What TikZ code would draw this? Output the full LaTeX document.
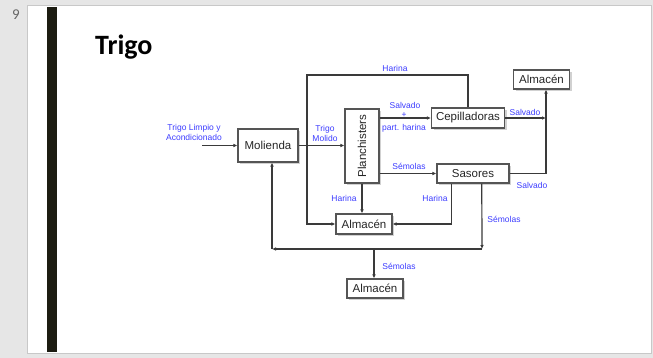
\documentclass[tikz,border=0pt]{standalone}
\usepackage{fontspec}
\setmainfont{Liberation Sans}
\newfontfamily\slidefont{Carlito}
\usetikzlibrary{arrows.meta,calc}
\definecolor{slidegray}{HTML}{E6E6E6}
\definecolor{slideedge}{HTML}{C8C8C8}
\definecolor{barcolor}{HTML}{1C1C12}
\definecolor{flowline}{HTML}{3A3A3A}
\definecolor{boxedge}{HTML}{555555}
\definecolor{labelblue}{HTML}{3C3CFF}
\tikzset{
  unitbox/.style={draw=boxedge, line width=1.1pt, fill=white, inner sep=0pt,
    font=\fontsize{11.5}{12}\selectfont, text=black!85},
  flow/.style={draw=flowline, line width=1.2pt,
    -{Latex[length=4pt,width=3.6pt]}},
  lbl/.style={text=labelblue, font=\fontsize{8.5}{9.5}\selectfont, inner sep=0pt, align=center},
}
\begin{document}
\begin{tikzpicture}[x=1pt,y=-1pt]
  % slide frame
  \fill[slidegray] (0,0) rectangle (653,358);
  \useasboundingbox (0,0) rectangle (653,358);
  \draw[slideedge, fill=white, line width=0.8pt] (27,5) rectangle (651,353);
  \node[font=\slidefont\fontsize{15}{16}\selectfont, text=black!60] (num) at (16,15) {9};
  \fill[barcolor] (47,7) rectangle (57,352);
  \node[font=\slidefont\bfseries\fontsize{28}{30}\selectfont, anchor=west, inner sep=0pt]
    (title) at (95,47) {Trigo};

  % shadows under the boxes
  \foreach \cx/\cy/\w/\h in {268/145.5/60/33, 362/146/34/74, 468/118/73/20,
      541.5/79.5/56/19, 473/173.5/72/19, 364/224/56/20, 375/288.5/56/19}
    \fill[black!18] (\cx-\w/2+2,\cy-\h/2+2) rectangle (\cx+\w/2+2,\cy+\h/2+2);

  % process units
  \node[unitbox, minimum width=60pt, minimum height=33pt] (mol) at (268,145.5) {Molienda};
  \node[unitbox, minimum width=34pt, minimum height=74pt] (plan) at (362,146)
    {\rotatebox{90}{Planchisters}};
  \node[unitbox, minimum width=73pt, minimum height=20pt] (cep) at (468,118) {Cepilladoras};
  \node[unitbox, minimum width=56pt, minimum height=19pt] (almA) at (541.5,79.5) {Almacén};
  \node[unitbox, minimum width=72pt, minimum height=19pt] (sas) at (473,173.5) {Sasores};
  \node[unitbox, minimum width=56pt, minimum height=20pt] (almB) at (364,224) {Almacén};
  \node[unitbox, minimum width=56pt, minimum height=19pt] (almC) at (375,288.5) {Almacén};

  % free ends and junctions
  \coordinate (feed) at (202,145.5);
  \coordinate (hloop) at (307,75);
  \coordinate (sj) at (546,118);
  \coordinate (bR) at (482,249);
  \coordinate (bL) at (272,249);
  \coordinate (bM) at (374,249);

  % connectors
  \draw[flow] (feed) -- (mol.west);
  \draw[flow] (mol.east) -- (plan.west |- mol.east);
  \draw[flow] (cep.north) |- (hloop) |- (almB.west);
  \draw[flow] (plan.east |- cep.west) -- (cep.west);
  \draw[flow] (plan.east |- sas.west) -- (sas.west);
  \draw[flow] (cep.east) -- (sj);
  \draw[flow] (sas.east) -| (sj) -- (sj |- almA.south);
  \draw[flow] (plan.south) -- (plan.south |- almB.north);
  \draw[flow] ($(sas.south west)!0.21!(sas.south east)$) |- (almB.east);
  \draw[flow] ($(sas.south west)!0.62!(sas.south east)$) -- (bR);
  \draw[flow] (bR) -- (bL);
  \draw[flow] (bL) -- (bL |- mol.south);
  \draw[flow] (bM) -- (bM |- almC.north);

  % stream labels
  \node[lbl] (lfeed) at (194,132.5) {Trigo Limpio y\\Acondicionado};
  \node[lbl] (lmol) at (325,133.5) {Trigo\\Molido};
  \node[lbl] (lhar) at (395,68) {Harina};
  \node[lbl] (lsal) at (405,105) {Salvado};
  \node[lbl] (lplus) at (404,115) {+};
  \node[lbl] (lpart) at (404,128) {part. harina};
  \node[lbl] (lsalA) at (525,112) {Salvado};
  \node[lbl] (lsem) at (409,166) {Sémolas};
  \node[lbl] (lsalB) at (532,185) {Salvado};
  \node[lbl] (lharP) at (344,198) {Harina};
  \node[lbl] (lharS) at (435,198) {Harina};
  \node[lbl] (lsemS) at (504,219) {Sémolas};
  \node[lbl] (lsemB) at (399,266) {Sémolas};
\end{tikzpicture}
\end{document}
